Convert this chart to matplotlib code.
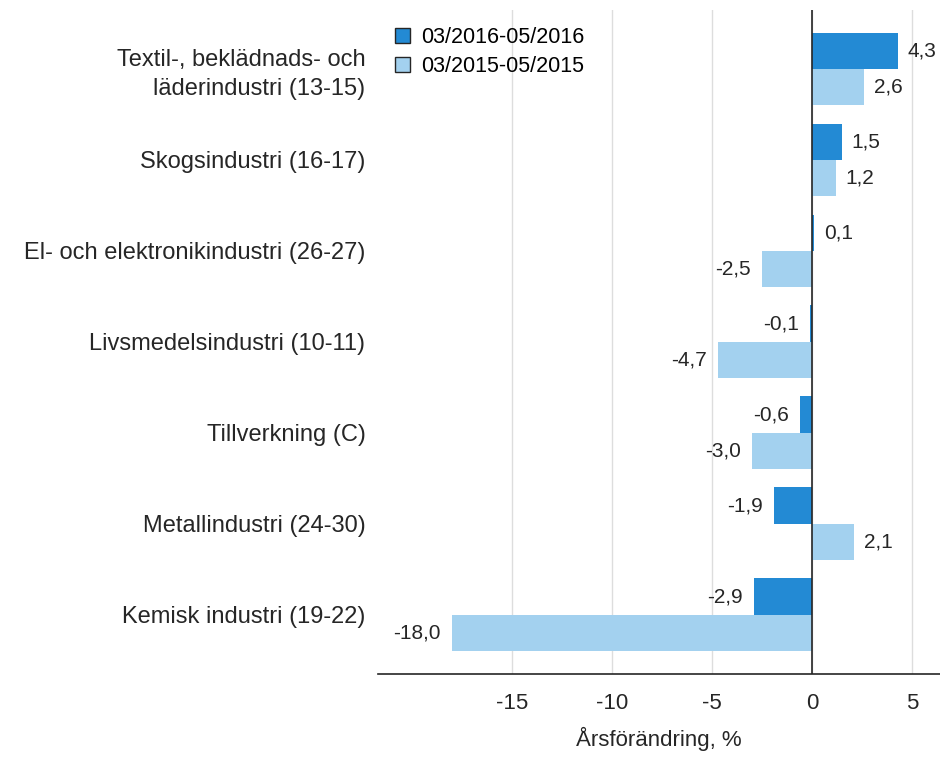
import matplotlib.pyplot as plt
import numpy as np

plt.rcParams['font.family'] = ['Liberation Sans', 'DejaVu Sans']

# data
categories = ["Textil-, beklädnads- och\nläderindustri (13-15)",
              "Skogsindustri (16-17)",
              "El- och elektronikindustri (26-27)",
              "Livsmedelsindustri (10-11)",
              "Tillverkning (C)",
              "Metallindustri (24-30)",
              "Kemisk industri (19-22)"]
vals_2016 = [4.3, 1.5, 0.1, -0.1, -0.6, -1.9, -2.9]
vals_2015 = [2.6, 1.2, -2.5, -4.7, -3.0, 2.1, -18.0]
series_names = ["03/2016-05/2016", "03/2015-05/2015"]
xticks = [-15, -10, -5, 0, 5]

dark = "#238ad4"
light = "#a3d1ef"
txtcol = "#262626"

fig = plt.figure(figsize=(9.4, 7.58), dpi=100)
ax = fig.add_axes([0.402, 0.111, 0.598, 0.876])

y = np.arange(len(categories))
h = 0.4
b1 = ax.barh(y - h / 2, vals_2016, height=h, color=dark, label=series_names[0], zorder=2)
b2 = ax.barh(y + h / 2, vals_2015, height=h, color=light, label=series_names[1], zorder=2)

# value labels, comma decimal
for bars, vals in [(b1, vals_2016), (b2, vals_2015)]:
    for bar, v in zip(bars, vals):
        txt = ("%.1f" % v).replace(".", ",")
        yc = bar.get_y() + bar.get_height() / 2
        if v >= 0:
            ax.annotate(txt, (v, yc), xytext=(7, 0), textcoords="offset points",
                        va="center", ha="left", fontsize=15, color=txtcol)
        else:
            ax.annotate(txt, (v, yc), xytext=(-8, 0), textcoords="offset points",
                        va="center", ha="right", fontsize=15, color=txtcol)

ax.set_xlim(-21.7, 6.4)
ax.set_ylim(len(categories) - 0.35, -0.65)
ax.set_xticks(xticks)
ax.set_xticklabels([str(t) for t in xticks], fontsize=16)
ax.set_yticks(y)
ax.set_yticklabels(categories, fontsize=17, linespacing=1.4)
ax.tick_params(axis="both", length=0, colors=txtcol)
ax.tick_params(axis="x", pad=14)
ax.tick_params(axis="y", pad=9)
ax.grid(axis="x", color="#dddddd", linewidth=1, zorder=0)
ax.axvline(0, color=txtcol, linewidth=1.2, zorder=3)

for s in ["top", "right", "left"]:
    ax.spines[s].set_visible(False)
ax.spines["bottom"].set_color(txtcol)
ax.spines["bottom"].set_linewidth(1.2)

ax.set_xlabel("Årsförändring, %", fontsize=16, labelpad=9, color=txtcol)

leg = ax.legend(loc="upper left", bbox_to_anchor=(0.0, 1.0), frameon=False, fontsize=15.5,
                handlelength=0.7, handleheight=0.7, handletextpad=0.5, labelspacing=0.35,
                borderaxespad=0.4)
for p in leg.get_patches():
    p.set_edgecolor(txtcol)
    p.set_linewidth(1)

fig.savefig("out.png", dpi=100)
